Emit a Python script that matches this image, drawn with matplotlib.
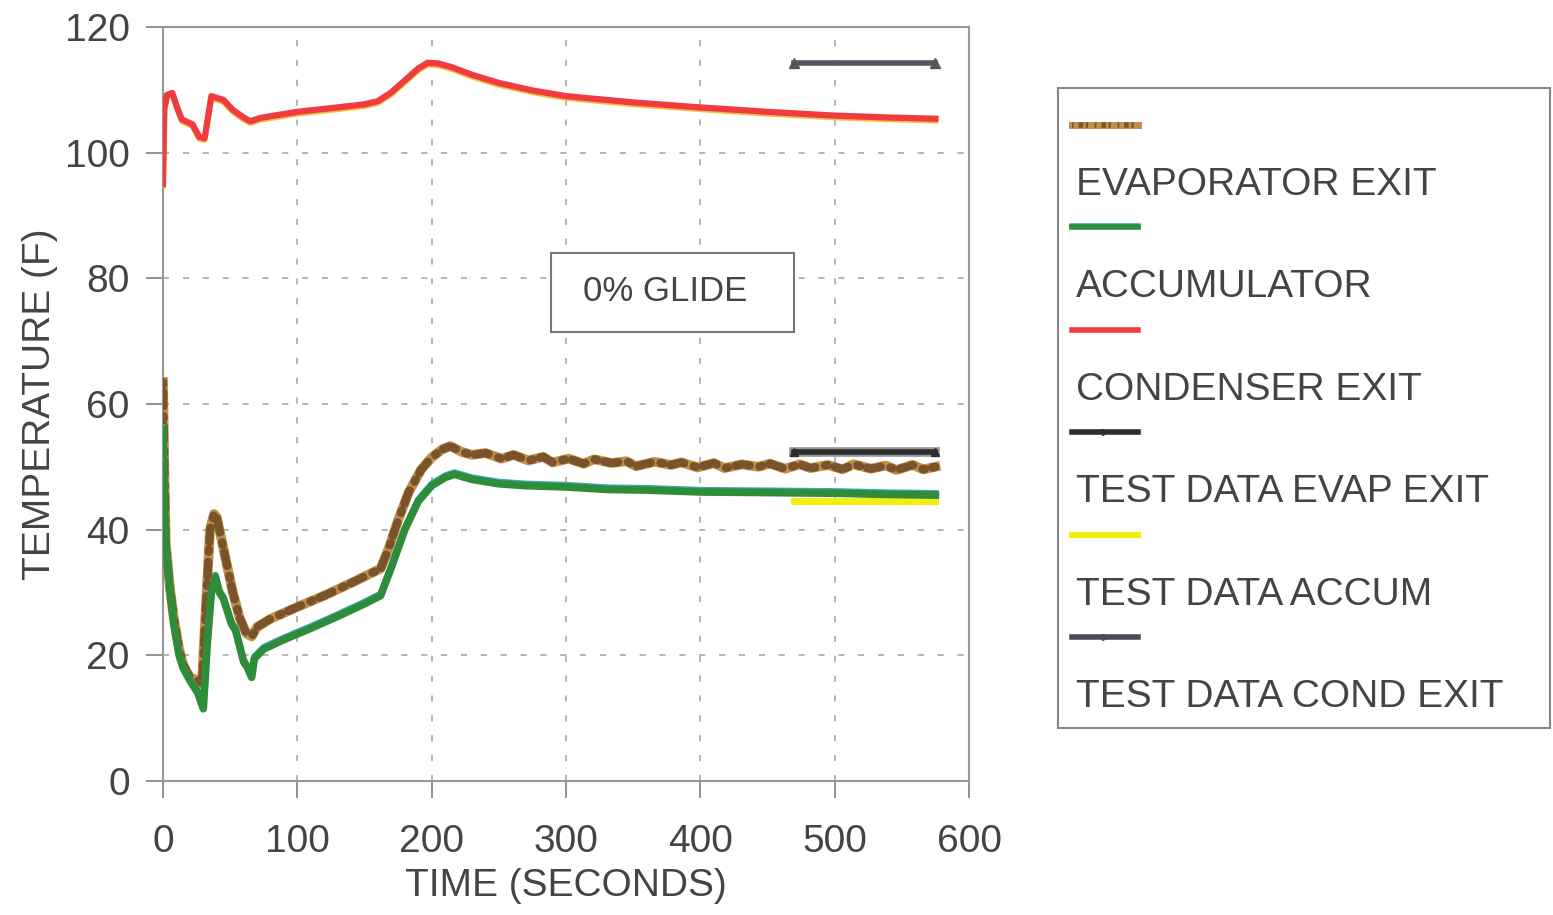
import matplotlib
matplotlib.use('Agg')
import matplotlib.pyplot as plt
import matplotlib.transforms as mtransforms
from matplotlib.lines import Line2D
from matplotlib.patches import Rectangle

plt.rcParams['font.family'] = ['Liberation Sans', 'DejaVu Sans']

# --- simulation results (time in s, temperature in F) ---
t_evap = [0, 1, 2, 5, 8, 12, 15, 20, 26, 29, 32, 35, 38, 40, 43, 47, 52, 57, 62, 66,
          70, 80, 100, 120, 140, 162, 168, 175, 183, 192, 200, 208, 214, 222, 230,
          240, 252, 261, 272, 283, 290, 302, 313, 321, 334, 345, 352, 366, 378, 386,
          398, 410, 418, 431, 443, 452, 463, 474, 482, 495, 506, 514, 527, 538, 546,
          558, 566, 575]
v_evap = [63.5, 50, 38, 31, 26, 21, 18.5, 16.5, 16, 15.5, 28, 40, 42.5, 42, 39, 35, 30,
          26, 23.5, 23, 24.5, 25.8, 27.7, 29.5, 31.5, 33.8, 37, 41.5, 46, 49.5, 51.5,
          52.8, 53.3, 52.4, 51.9, 52.2, 51.3, 51.9, 51.0, 51.6, 50.7, 51.3, 50.5, 51.2,
          50.6, 50.9, 50.1, 50.8, 50.3, 50.7, 49.9, 50.6, 49.8, 50.4, 50.0, 50.5, 49.7,
          50.4, 49.8, 50.3, 49.6, 50.4, 49.7, 50.2, 49.5, 50.3, 49.6, 50.0]

t_accum = [0, 1, 2, 5, 8, 12, 15, 20, 26, 30, 33, 36, 39, 42, 45, 48, 51, 54, 57, 60,
           63, 66, 68, 75, 90, 110, 130, 150, 162, 170, 180, 190, 200, 210, 217, 230,
           250, 270, 300, 330, 360, 400, 450, 500, 540, 575]
v_accum = [56, 45, 38, 31, 25, 20, 18, 16, 14, 11.5, 22, 30, 32.5, 30, 29, 27, 25, 24,
           21.5, 19, 18, 16.5, 19.5, 21, 22.5, 24.3, 26.2, 28.2, 29.5, 34, 40, 44.5,
           47, 48.3, 48.8, 48, 47.3, 47, 46.8, 46.4, 46.3, 46, 45.9, 45.8, 45.6, 45.5]

t_cond = [0, 1, 3, 7, 10, 14, 22, 27, 31, 36, 39, 45, 52, 60, 65, 72, 80, 100, 130,
          150, 160, 170, 180, 190, 197, 205, 215, 230, 250, 275, 300, 350, 400, 450,
          500, 540, 575]
v_cond = [95, 107, 109.2, 109.5, 107.5, 105.3, 104.5, 102.5, 102.3, 109, 108.8, 108.4,
          106.8, 105.6, 105, 105.5, 105.8, 106.5, 107.2, 107.7, 108.2, 109.6, 111.5,
          113.4, 114.3, 114.2, 113.6, 112.4, 111.1, 109.9, 109, 108, 107.2, 106.5, 105.9,
          105.6, 105.4]

# --- test data (steady state) ---
t_test = [470, 575]
test_evap = [52.3, 52.3]
test_accum = [44.5, 44.5]
test_cond = [114.3, 114.3]

x_ticks = [0, 100, 200, 300, 400, 500, 600]
y_ticks = [0, 20, 40, 60, 80, 100, 120]

legend_labels = ['EVAPORATOR EXIT', 'ACCUMULATOR', 'CONDENSER EXIT',
                 'TEST DATA EVAP EXIT', 'TEST DATA ACCUM', 'TEST DATA COND EXIT']

W, H = 1553, 915
TXT = '#444444'
speckle = (0, (0.3, 0.9, 0.8, 0.5, 0.4, 1.2))

fig = plt.figure(figsize=(W / 100, H / 100), dpi=100)
ax = fig.add_axes([163 / W, 1 - 781 / H, (969 - 163) / W, (781 - 27) / H])

up = mtransforms.offset_copy(ax.transData, fig=fig, x=0, y=2, units='dots')
down = mtransforms.offset_copy(ax.transData, fig=fig, x=0, y=-2, units='dots')

# evaporator exit: speckled brown trace
ax.plot(t_evap, v_evap, color='#c09048', lw=7, solid_joinstyle='round', zorder=3)
ax.plot(t_evap, v_evap, color='#7a532b', lw=6, ls=speckle,
        dash_capstyle='round', zorder=3)

# accumulator
ax.plot(t_accum, v_accum, color='#3aa8b8', lw=4.5, transform=up, zorder=3)
ax.plot(t_accum, v_accum, color='#2f8c3a', lw=5.5, zorder=3)

# condenser exit
ax.plot(t_cond, v_cond, color='#f2c040', lw=4, transform=down, zorder=3)
ax.plot(t_cond, v_cond, color='#f03c40', lw=4.5, zorder=3)

# test data
ax.plot(t_test, test_evap, color='#9a9a9a', lw=7, zorder=4)
ax.plot(t_test, test_evap, color='#2e2e2e', lw=4, marker='^', ms=6, zorder=4)
ax.plot(t_test, test_accum, color='#f4ee10', lw=5, zorder=2)
ax.plot(t_test, test_cond, color='#55555f', lw=4, marker='^', ms=7, zorder=4)

ax.set_xlim(0, 600)
ax.set_ylim(0, 120)
ax.set_xticks(x_ticks)
ax.set_yticks(y_ticks)
ax.grid(True, color='#a0a0a0', ls=(0, (4, 9)), lw=1.1)
for sp in ax.spines.values():
    sp.set_color('#999999')
    sp.set_linewidth(1.5)
ax.tick_params(direction='out', length=12, width=1.3, color='#888888',
               labelsize=28, labelcolor=TXT)
ax.tick_params(axis='x', pad=19)
ax.tick_params(axis='y', pad=12)

ax.set_xlabel('TIME (SECONDS)', fontsize=28, color=TXT)
ax.set_ylabel('TEMPERATURE (F)', fontsize=28, color=TXT)
ax.xaxis.set_label_coords(0.5, -0.115)
ax.yaxis.set_label_coords(-0.13, 0.5)

# annotation box
ax.add_patch(Rectangle((289, 71.4), 181, 12.7, facecolor='white', edgecolor='#777777',
                       lw=1.5, zorder=5))
ax.text(313, 77.9, '0% GLIDE', fontsize=25, color=TXT, va='center', zorder=6)

# legend: handle on one row, label on the next
fig.add_artist(Rectangle((1058 / W, 1 - 728 / H), (1550 - 1058) / W, (728 - 88) / H,
                         transform=fig.transFigure, fill=False, edgecolor='#888888',
                         lw=1.5))
handle_styles = [
    [dict(color='#c09048', lw=5), dict(color='#7a532b', lw=4, ls=speckle)],
    [dict(color='#3aa8b8', lw=4, dy=1.5), dict(color='#2f8c3a', lw=4)],
    [dict(color='#f03c40', lw=4)],
    [dict(color='#2e2e2e', lw=4, marker='>', ms=5, markevery=[1])],
    [dict(color='#f4ee10', lw=4.5)],
    [dict(color='#4a4a58', lw=4, marker='>', ms=5, markevery=[1])],
]
for i, (label, styles) in enumerate(zip(legend_labels, handle_styles)):
    yh = 125 + 102.4 * i
    for st in styles:
        st = dict(st)
        dy = st.pop('dy', 0)
        y = 1 - (yh - dy) / H
        fig.add_artist(Line2D([1072 / W, 1105 / W, 1138 / W], [y, y, y],
                              transform=fig.transFigure, **st))
    fig.text(1076 / W, 1 - (185 + 102.4 * i) / H, label, fontsize=28, color=TXT,
             va='center', ha='left')

fig.savefig('out.png', dpi=100)
